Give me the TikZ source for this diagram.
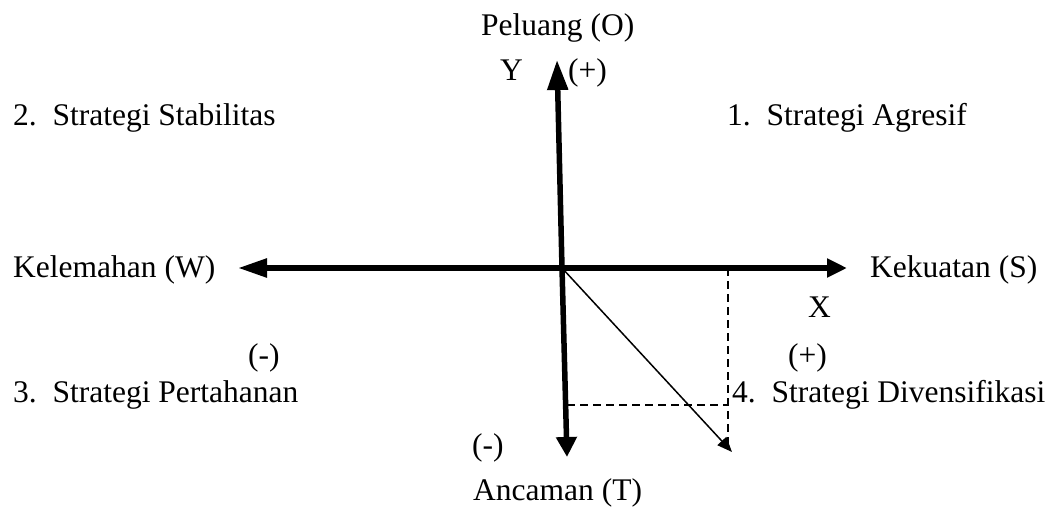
\documentclass[tikz,border=0pt]{standalone}
\usepackage{fontspec}
\setmainfont{Liberation Serif}
\usetikzlibrary{arrows.meta}
\begin{document}
\begin{tikzpicture}[x=1pt,y=-1pt,
  lbl/.style={anchor=base west,inner sep=0pt,font=\fontsize{31.5}{36}\selectfont},
  axis/.style={line width=5.5pt},
  dashline/.style={line width=2.2pt,dash pattern=on 8pt off 5pt},
  diag/.style={line width=1.5pt,-{Triangle[length=15pt,width=12pt]}}]
\useasboundingbox (0,0) rectangle (1051,506);
% coordinates
\coordinate (wtip) at (238,268);
\coordinate (stip) at (847,268);
\coordinate (otip) at (557,60);
\coordinate (ttip) at (567,457);
\coordinate (c) at (562,268);
\coordinate (p) at (732,452);
\coordinate (xtop) at (728,268);
\coordinate (xbot) at (728,446);
\coordinate (ylft) at (567,405);
\coordinate (yrgt) at (728,405);
% axes
\draw[axis,-{Triangle[length=29pt,width=18pt]}] (c) -- (wtip);
\draw[axis,-{Triangle[length=20pt,width=18pt]}] (c) -- (stip);
\draw[axis,-{Triangle[length=30pt,width=20pt]}] (c) -- (otip);
\draw[axis,-{Triangle[length=20pt,width=20pt]}] (c) -- (ttip);
% dashed projections
\draw[dashline] (xtop) -- (xbot);
\draw[dashline] (ylft) -- (yrgt);
% diagonal
\draw[diag] (c) -- (p);
% labels
\node[lbl] (peluang) at (481,35) {Peluang (O)};
\node[lbl] (ylab) at (500,80) {Y};
\node[lbl] (yplus) at (568,80) {(+)};
\node[lbl] (q2) at (13,125) {2.\ \ Strategi Stabilitas};
\node[lbl] (q1) at (727,125) {1.\ \ Strategi Agresif};
\node[lbl] (kelemahan) at (13,277) {Kelemahan (W)};
\node[lbl] (kekuatan) at (870,277) {Kekuatan (S)};
\node[lbl] (xlab) at (808,317) {X};
\node[lbl] (xminus) at (248,365) {(-)};
\node[lbl] (xplus) at (788,365) {(+)};
\node[lbl] (q3) at (13,402) {3.\ \ Strategi Pertahanan};
\node[lbl] (q4) at (732,402) {4.\ \ Strategi Divensifikasi};
\node[lbl] (yminus) at (472,455) {(-)};
\node[lbl] (ancaman) at (473,500) {Ancaman (T)};
\end{tikzpicture}
\end{document}
